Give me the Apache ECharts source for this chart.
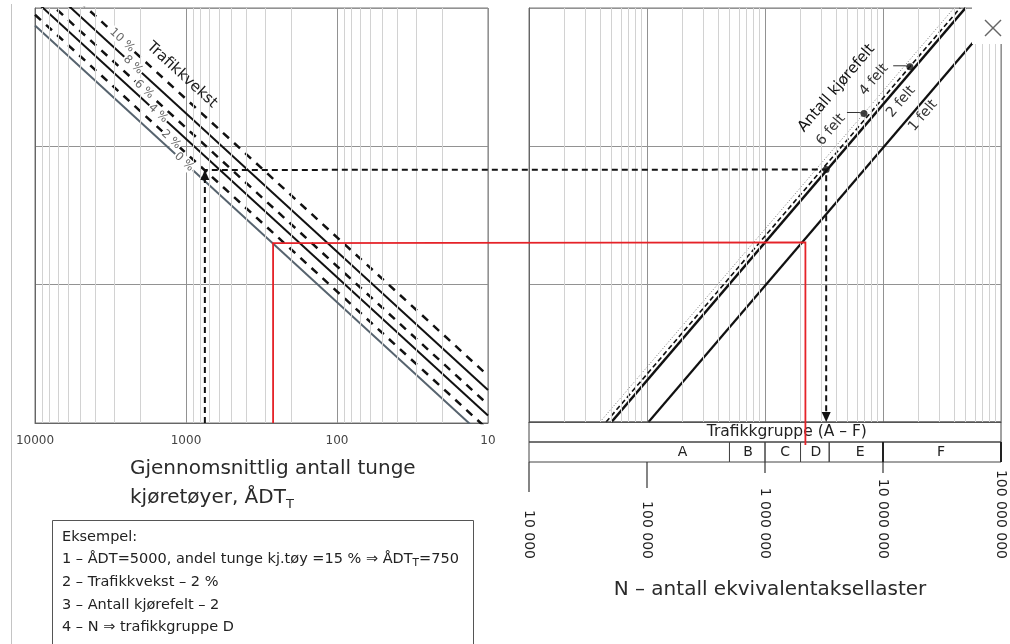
<!DOCTYPE html>
<html><head><meta charset="utf-8">
<script src="https://cdn.jsdelivr.net/npm/echarts@6/dist/echarts.min.js"></script>
<style>html,body{margin:0;padding:0;background:#fff}#c{width:1010px;height:644px}</style>
</head><body><div id="c"></div>
<script>
// ---------------- data ----------------
const adtTicks = [10000, 1000, 100, 10];
const adtTickLabels = ['10000', '1000', '100', '10'];
const nTicks = [1e4, 1e5, 1e6, 1e7, 1e8];
const nTickLabels = ['10 000', '100 000', '1 000 000', '10 000 000', '100 000 000'];

// Trafikkvekst lines (left panel): value on shared vertical scale at ADT_T = 10000 and at ADT_T = 10
const growthNames = ['0 %', '2 %', '4 %', '6 %', '8 %', '10 %'];
const growthYAt10000 = [747, 894, 1131, 1360, 1732, 2200];
const growthYAt10 = [0.747, 0.894, 1.131, 1.36, 1.732, 2.2];

// Antall kjørefelt lines (right panel): N at vertical value 1 and at 1000
const laneNames = ['1 felt', '2 felt', '4 felt', '6 felt'];
const laneNAtY1 = [1.03e5, 5.0e4, 4.5e4, 4.0e4];
const laneNAtY1000 = [1.03e8, 5.0e7, 4.5e7, 4.0e7];

// Trafikkgruppe table
const groupNames = ['A', 'B', 'C', 'D', 'E', 'F'];
const groupBounds = [1e4, 5e5, 1e6, 2e6, 3.5e6, 1e7, 1e8];
const groupLabelN = [2e5, 7.2e5, 1.48e6, 2.7e6, 6.4e6, 3.1e7];
const tableHeader = 'Trafikkgruppe (A – F)';
const tableHeaderN = 1.53e6;

// Example path (black dashed): ÅDT_T = 750, 2 %, 2 felt
const exampleADT = 750, exampleY = 67.5, exampleN = 3.3e6;
// Red path
const redADT = 265, redY = 20, redN = 2.2e6;
// Marker dots on lane lines [N, value]
const laneDots = [[3.3e6, 67.5], [6.9e6, 172], [1.69e7, 375]];
// leader lines from "6 felt" and "4 felt" labels to their dots [fromN, toN, value]
const leaders = [[4.95e6, 6.9e6, 172], [1.22e7, 1.69e7, 375]];

// ---------------- styles ----------------
const FONT = '"DejaVu Sans", sans-serif';
const growthStyles = [
  {color: '#56636e', width: 2, type: 'solid'},
  {color: '#111', width: 2.5, type: [8, 7]},
  {color: '#111', width: 2, type: 'solid'},
  {color: '#111', width: 2.5, type: [8, 7]},
  {color: '#111', width: 2, type: 'solid'},
  {color: '#111', width: 2.5, type: [8, 7]}
];
const laneStyles = [
  {color: '#111', width: 2.2, type: 'solid'},
  {color: '#111', width: 2.6, type: 'solid'},
  {color: '#111', width: 1.6, type: [5, 3]},
  {color: '#777', width: 1, type: [1, 2]}
];
const tickLen = [30, 26, 11, 11, 0];

function minorValues(lo, hi) {
  const out = [];
  for (let d = lo; d < hi; d *= 10) for (let k = 2; k <= 9; k++) out.push(k * d);
  return out;
}
function lookup(ticks, labels) {
  return v => {
    const i = ticks.findIndex(t => Math.abs(t - v) / t < 1e-6);
    return i >= 0 ? labels[i] : '';
  };
}
function gridSeries(xi, lo, hi) {
  return {
    type: 'line', xAxisIndex: xi, yAxisIndex: xi, data: [], silent: true, z: 1,
    markLine: {
      silent: true, symbol: ['none', 'none'], label: {show: false},
      lineStyle: {color: '#d2d2d2', width: 1, type: 'solid'},
      emphasis: {disabled: true},
      data: minorValues(lo, hi).map(v => ({xAxis: v}))
    }
  };
}

const chart = echarts.init(document.getElementById('c'));

function renderTable(params, api) {
  const i = params.dataIndex;
  const ch = [];
  const p0 = api.coord([groupBounds[i], 1]);
  const p1 = api.coord([groupBounds[i + 1], 2]);
  ch.push({type: 'rect', shape: {x: p0[0], y: p0[1], width: p1[0] - p0[0], height: p1[1] - p0[1]},
    style: {fill: 'none', stroke: '#444', lineWidth: 1}});
  const c = api.coord([groupLabelN[i], 1.5]);
  ch.push({type: 'text', style: {text: groupNames[i], x: c[0], y: c[1], align: 'center', verticalAlign: 'middle',
    font: '14px ' + FONT, fill: '#222'}});
  if (i === 0) {
    const h0 = api.coord([groupBounds[0], 0]);
    const h1 = api.coord([groupBounds[groupBounds.length - 1], 1]);
    ch.push({type: 'rect', shape: {x: h0[0], y: h0[1], width: h1[0] - h0[0], height: h1[1] - h0[1]},
      style: {fill: 'none', stroke: '#444', lineWidth: 1}});
    const hc = api.coord([tableHeaderN, 0.5]);
    ch.push({type: 'text', style: {text: tableHeader, x: hc[0], y: hc[1], align: 'center', verticalAlign: 'middle',
      font: '15.5px ' + FONT, fill: '#222'}});
  }
  if (i === groupNames.length - 1) {
    ch.push({type: 'line', shape: {x1: p0[0], y1: p0[1], x2: p0[0], y2: p1[1]}, style: {stroke: '#222', lineWidth: 2}});
    ch.push({type: 'line', shape: {x1: p1[0], y1: p0[1], x2: p1[0], y2: p1[1]}, style: {stroke: '#222', lineWidth: 2}});
  }
  return {type: 'group', children: ch};
}
function renderTicks(params, api) {
  const i = params.dataIndex;
  const p = api.coord([nTicks[i], 1]);
  return {type: 'line', shape: {x1: p[0], y1: p[1], x2: p[0], y2: p[1] + tickLen[i]},
    style: {stroke: '#333', lineWidth: 1.2}};
}

const logY = (gi) => ({
  gridIndex: gi, type: 'log', min: 1, max: 1000,
  axisLabel: {show: false}, axisTick: {show: false},
  axisLine: {show: true, lineStyle: {color: '#666'}},
  splitLine: {show: true, lineStyle: {color: '#929292', width: 1}}
});

const option = {
  animation: false,
  textStyle: {fontFamily: FONT},
  grid: [
    {left: 35, top: 8, width: 453, height: 415, show: true, borderColor: '#777', borderWidth: 1},
    {left: 529, top: 8, width: 472, height: 414, show: true, borderColor: '#777', borderWidth: 1},
    {left: 529, top: 422, width: 472, height: 40},
    {left: 529, top: 462, width: 472, height: 98}
  ],
  xAxis: [
    {gridIndex: 0, type: 'log', min: 10, max: 10000, inverse: true,
      axisLine: {show: true, lineStyle: {color: '#666'}}, axisTick: {show: false},
      axisLabel: {fontSize: 12, color: '#444', margin: 12, formatter: lookup(adtTicks, adtTickLabels),
        showMinLabel: true, showMaxLabel: true},
      splitLine: {show: true, lineStyle: {color: '#929292', width: 1}}},
    {gridIndex: 1, type: 'log', min: 1e4, max: 1e8,
      axisLine: {show: true, lineStyle: {color: '#666'}}, axisTick: {show: false}, axisLabel: {show: false},
      splitLine: {show: true, lineStyle: {color: '#929292', width: 1}}},
    {gridIndex: 2, type: 'log', min: 1e4, max: 1e8, show: false},
    {gridIndex: 3, type: 'log', min: 1e4, max: 1e8, position: 'bottom',
      axisLine: {show: false}, axisTick: {show: false}, splitLine: {show: false},
      axisLabel: {inside: true, rotate: -90, align: 'right', verticalAlign: 'middle', margin: 1,
        fontSize: 14, color: '#222', formatter: lookup(nTicks, nTickLabels), showMinLabel: true, showMaxLabel: true}}
  ],
  yAxis: [
    logY(0), logY(1),
    {gridIndex: 2, type: 'value', min: 0, max: 2, inverse: true, show: false},
    {gridIndex: 3, type: 'value', min: 0, max: 1, show: false}
  ],
  series: [
    gridSeries(0, 10, 10000),
    gridSeries(1, 1e4, 1e8),
    ...growthNames.map((n, i) => ({
      type: 'line', name: n, xAxisIndex: 0, yAxisIndex: 0, silent: true, z: 3, clip: true,
      symbol: 'none', lineStyle: growthStyles[i],
      data: [[adtTicks[0], growthYAt10000[i]], [adtTicks[adtTicks.length - 1], growthYAt10[i]]]
    })),
    ...laneNames.map((n, i) => ({
      type: 'line', name: n, xAxisIndex: 1, yAxisIndex: 1, silent: true, z: 3, clip: true,
      symbol: 'none', lineStyle: laneStyles[i],
      data: [[laneNAtY1[i], 1], [laneNAtY1000[i], 1000]]
    })),
    {type: 'scatter', xAxisIndex: 1, yAxisIndex: 1, silent: true, z: 6, symbolSize: 7,
      itemStyle: {color: '#111'}, data: laneDots},
    {type: 'custom', xAxisIndex: 2, yAxisIndex: 2, silent: true, z: 4, clip: false,
      renderItem: renderTable, data: groupNames.map((g, i) => [groupLabelN[i], 1.5])},
    {type: 'custom', xAxisIndex: 3, yAxisIndex: 3, silent: true, z: 4, clip: false,
      renderItem: renderTicks, data: nTicks.map(t => [t, 1])}
  ]
};
chart.setOption(option);

// ---------------- annotations (positioned through the chart's own scales) ----------------
const L = (a, v) => chart.convertToPixel({xAxisIndex: 0, yAxisIndex: 0}, [a, v]);
const R = (n, v) => chart.convertToPixel({xAxisIndex: 1, yAxisIndex: 1}, [n, v]);
const T = (n, r) => chart.convertToPixel({xAxisIndex: 2, yAxisIndex: 2}, [n, r]);
const mctx = document.createElement('canvas').getContext('2d');
const textW = (t, font) => { mctx.font = font; return mctx.measureText(t).width; };

const leftAngle = -Math.atan2(415 / 3, 453 / 3);
const rightAngle = Math.atan2(414 / 3, 472 / 4);

const PF = '11.5px ' + FONT;
const leftNotes = [
  {text: 'Trafikkvekst', at: [1063, 328], font: '15px ' + FONT, fill: '#1a1a1a', bg: false},
  {text: growthNames[5], at: [2653, 585], font: PF, fill: '#666', bg: true},
  {text: growthNames[4], at: [2244, 388], font: PF, fill: '#666', bg: true},
  {text: growthNames[3], at: [1897, 258], font: PF, fill: '#666', bg: true},
  {text: growthNames[2], at: [1532, 173], font: PF, fill: '#666', bg: true},
  {text: growthNames[1], at: [1257, 112], font: PF, fill: '#666', bg: true},
  {text: growthNames[0], at: [1031, 77], font: PF, fill: '#666', bg: true}
];
const rightNotes = [
  {text: 'Antall kjørefelt', at: [4.04e6, 262], font: '15px ' + FONT, fill: '#111'},
  {text: laneNames[3], at: [3.62e6, 131], font: '14px ' + FONT, fill: '#333'},
  {text: laneNames[2], at: [8.39e6, 302], font: '14px ' + FONT, fill: '#333'},
  {text: laneNames[1], at: [1.42e7, 209], font: '14px ' + FONT, fill: '#333'},
  {text: laneNames[0], at: [2.18e7, 166], font: '14px ' + FONT, fill: '#333'}
];

const g = [];
leftNotes.forEach(n => {
  const p = L(n.at[0], n.at[1]);
  const st = {text: n.text, x: 0, y: 0, align: 'center', verticalAlign: 'middle', font: n.font, fill: n.fill};
  if (n.bg) { st.backgroundColor = '#fff'; st.padding = [0, 1]; }
  g.push({type: 'text', x: p[0], y: p[1], rotation: leftAngle, z: 50, style: st});
});
rightNotes.forEach(n => {
  const p = R(n.at[0], n.at[1]);
  g.push({type: 'text', x: p[0], y: p[1], rotation: rightAngle, z: 50,
    style: {text: n.text, x: 0, y: 0, align: 'center', verticalAlign: 'middle', font: n.font, fill: n.fill}});
});
leaders.forEach(l => {
  const a = R(l[0], l[2]), b = R(l[1], l[2]);
  g.push({type: 'polyline', z: 45, shape: {points: [[a[0], a[1] - 1], [b[0] - 5, a[1] - 1], b]},
    style: {stroke: '#333', lineWidth: 1, fill: 'none'}});
});

// red path
g.push({type: 'polyline', z: 40,
  shape: {points: [L(redADT, 1), L(redADT, redY), R(redN, redY), T(redN, 1.15)]},
  style: {stroke: '#e52228', lineWidth: 1.8, fill: 'none'}});
// example dashed path
const exA = L(exampleADT, exampleY), exB = R(exampleN, 1);
g.push({type: 'polyline', z: 41,
  shape: {points: [L(exampleADT, 1), [exA[0], exA[1] + 8], exA, R(exampleN, exampleY), [exB[0], exB[1] - 8]]},
  style: {stroke: '#111', lineWidth: 2, lineDash: [6, 4], fill: 'none'}});
g.push({type: 'polygon', z: 42, shape: {points: [exA, [exA[0] - 4.5, exA[1] + 10], [exA[0] + 4.5, exA[1] + 10]]},
  style: {fill: '#111'}});
g.push({type: 'polygon', z: 42, shape: {points: [exB, [exB[0] - 4.5, exB[1] - 10], [exB[0] + 4.5, exB[1] - 10]]},
  style: {fill: '#111'}});

// axis titles
const TF = '20px ' + FONT;
g.push({type: 'text', x: 130, y: 469, z: 50,
  style: {text: 'Gjennomsnittlig antall tunge', align: 'left', verticalAlign: 'middle', font: TF, fill: '#2a2a2a'}});
const l2 = 'kjøretøyer, ÅDT';
g.push({type: 'text', x: 130, y: 498, z: 50,
  style: {text: l2, align: 'left', verticalAlign: 'middle', font: TF, fill: '#2a2a2a'}});
g.push({type: 'text', x: 130 + textW(l2, TF), y: 505, z: 50,
  style: {text: 'T', align: 'left', verticalAlign: 'middle', font: '13px ' + FONT, fill: '#2a2a2a'}});
g.push({type: 'text', x: 770, y: 590, z: 50,
  style: {text: 'N – antall ekvivalentaksellaster', align: 'center', verticalAlign: 'middle', font: TF, fill: '#2a2a2a'}});

// Eksempel box
g.push({type: 'rect', z: 60, shape: {x: 52.5, y: 520.5, width: 421, height: 140},
  style: {fill: '#fff', stroke: '#555', lineWidth: 1}});
const EF = '14.5px ' + FONT;
const exLines = [
  ['Eksempel:'],
  ['1 – ÅDT=5000, andel tunge kj.tøy =15 % ⇒ ÅDT', 'T', '=750'],
  ['2 – Trafikkvekst – 2 %'],
  ['3 – Antall kjørefelt – 2'],
  ['4 – N ⇒ trafikkgruppe D']
];
exLines.forEach((ln, i) => {
  const y = 537 + i * 22.6;
  let x = 62;
  ln.forEach((part, j) => {
    const sub = (j === 1);
    const f = sub ? '10.5px ' + FONT : EF;
    g.push({type: 'text', x: x, y: sub ? y + 4 : y, z: 61,
      style: {text: part, align: 'left', verticalAlign: 'middle', font: f, fill: '#222'}});
    x += textW(part, f);
  });
});

// page artefacts: close button and thin rule at left
g.push({type: 'rect', z: 70, shape: {x: 972, y: 0, width: 38, height: 44}, style: {fill: '#fff'}});
g.push({type: 'line', z: 71, shape: {x1: 985, y1: 20, x2: 1001, y2: 36}, style: {stroke: '#666', lineWidth: 1.4}});
g.push({type: 'line', z: 71, shape: {x1: 1001, y1: 20, x2: 985, y2: 36}, style: {stroke: '#666', lineWidth: 1.4}});
g.push({type: 'line', z: 0, shape: {x1: 11.5, y1: 4, x2: 11.5, y2: 644}, style: {stroke: '#c4c4c4', lineWidth: 1}});

chart.setOption({graphic: g});
</script>
</body></html>
